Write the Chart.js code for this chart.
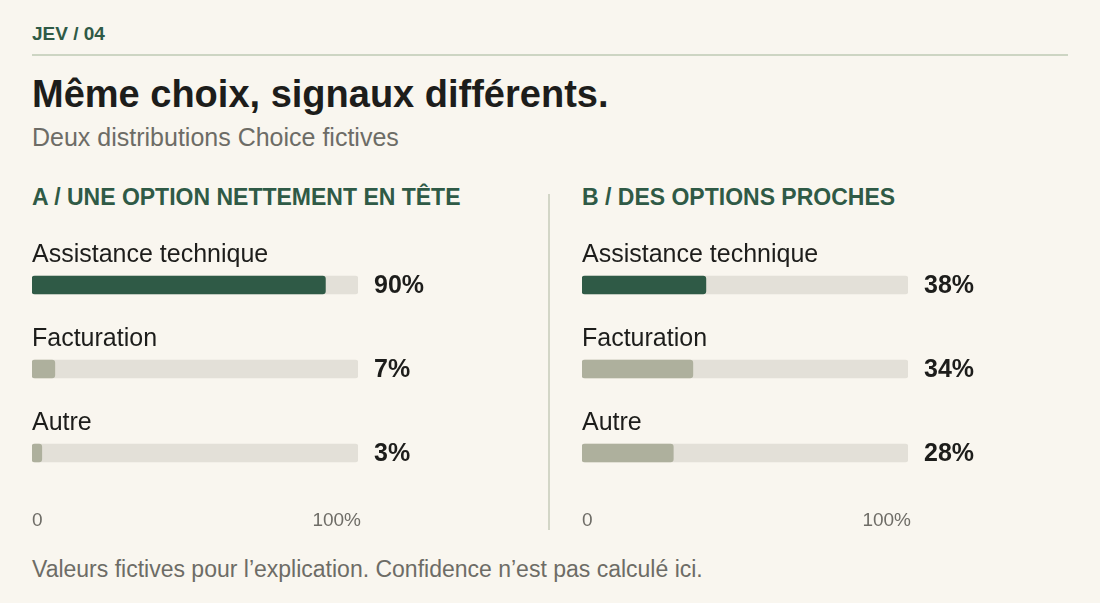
<!DOCTYPE html>
<html lang="fr">

<head>
    <meta charset="UTF-8">
    <title>Même choix, signaux différents.</title>
    <script src="https://cdn.jsdelivr.net/npm/chart.js"></script>
    <style>
        body {
            margin: 0;
            background: #f9f6ef;
            font-family: "Liberation Sans", Arial, sans-serif;
            color: #1d1d1b;
        }

        .page {
            position: relative;
            width: 1100px;
            height: 603px;
            overflow: hidden;
        }

        .page div {
            line-height: 1;
            white-space: nowrap;
        }

        .kicker {
            position: absolute;
            left: 32px;
            top: 24px;
            font-size: 19px;
            font-weight: bold;
            color: #2f5a46;
        }

        .rule {
            position: absolute;
            left: 32px;
            top: 54px;
            width: 1036px;
            height: 2px;
            background: #cdd5c3;
        }

        h1 {
            position: absolute;
            left: 32px;
            top: 75px;
            margin: 0;
            font-size: 38px;
            line-height: 1;
            font-weight: bold;
        }

        .sub {
            position: absolute;
            left: 32px;
            top: 125px;
            font-size: 25px;
            color: #6d6c66;
        }

        .ptitle {
            position: absolute;
            top: 186px;
            font-size: 23px;
            font-weight: bold;
            color: #2f5a46;
        }

        .divider {
            position: absolute;
            left: 548px;
            top: 194px;
            width: 2px;
            height: 336px;
            background: #d3d6c7;
        }

        .box {
            position: absolute;
            top: 230px;
            width: 500px;
            height: 310px;
        }

        .note {
            position: absolute;
            left: 32px;
            top: 558px;
            font-size: 23px;
            color: #6d6c66;
        }
    </style>
</head>

<body>
    <div class="page">
        <div class="kicker">JEV / 04</div>
        <div class="rule"></div>
        <h1>Même choix, signaux différents.</h1>
        <div class="sub">Deux distributions Choice fictives</div>

        <div class="ptitle" style="left: 32px;">A / UNE OPTION NETTEMENT EN TÊTE</div>
        <div class="ptitle" style="left: 582px;">B / DES OPTIONS PROCHES</div>
        <div class="divider"></div>

        <div class="box" style="left: 32px;"><canvas id="chartA"></canvas></div>
        <div class="box" style="left: 582px;"><canvas id="chartB"></canvas></div>

        <div class="note">Valeurs fictives pour l’explication. Confidence n’est pas calculé ici.</div>
    </div>

    <script>
        const categories = ['Assistance technique', 'Facturation', 'Autre'];
        const valuesA = [90, 7, 3];
        const valuesB = [38, 34, 28];
        const trackValues = [100, 100, 100];
        const tickValues = [0, 100];
        const tickLabels = ['0', '100%'];

        const DARK = '#2f5a46';
        const MUTED = '#aeb09d';
        const TRACK = '#e3e0d8';
        const FONT = '"Liberation Sans", Arial, sans-serif';

        // category names above the bars, % on the right, and the 0 / 100% ticks
        const rowText = {
            id: 'rowText',
            afterDatasetsDraw(chart) {
                const ctx = chart.ctx;
                const meta = chart.getDatasetMeta(0);
                const xs = chart.scales.x;
                ctx.save();
                ctx.textBaseline = 'middle';
                meta.data.forEach((bar, i) => {
                    ctx.fillStyle = '#1d1d1b';
                    ctx.textAlign = 'left';
                    ctx.font = '25px ' + FONT;
                    ctx.fillText(chart.data.labels[i], xs.left, bar.y - 30);
                    ctx.font = 'bold 25px ' + FONT;
                    ctx.fillText(chart.data.datasets[0].data[i] + '%', xs.right + 16, bar.y + 1);
                });
                ctx.fillStyle = '#6f6d67';
                ctx.font = '19px ' + FONT;
                const ty = chart.chartArea.bottom + 26;
                ctx.textAlign = 'left';
                ctx.fillText(tickLabels[0], xs.getPixelForValue(tickValues[0]), ty);
                ctx.textAlign = 'right';
                ctx.fillText(tickLabels[1], xs.getPixelForValue(tickValues[1]) + 3, ty);
                ctx.restore();
            }
        };

        function makeChart(id, values) {
            return new Chart(document.getElementById(id), {
                type: 'bar',
                data: {
                    labels: categories,
                    datasets: [
                        {
                            data: values,
                            backgroundColor: values.map((v, i) => i === 0 ? DARK : MUTED),
                            borderRadius: 3,
                            borderSkipped: false,
                            barThickness: 18,
                            grouped: false,
                            order: 0
                        },
                        {
                            data: trackValues,
                            backgroundColor: TRACK,
                            borderRadius: 3,
                            borderSkipped: false,
                            barThickness: 18,
                            grouped: false,
                            order: 1
                        }
                    ]
                },
                options: {
                    indexAxis: 'y',
                    responsive: true,
                    maintainAspectRatio: false,
                    animation: false,
                    layout: { padding: { left: 0, right: 174, top: 13, bottom: 45 } },
                    plugins: { legend: { display: false }, tooltip: { enabled: false } },
                    scales: {
                        y: { display: false },
                        x: {
                            min: 0,
                            max: 100,
                            grid: { display: false, drawTicks: false },
                            border: { display: false },
                            ticks: { display: false }
                        }
                    }
                },
                plugins: [rowText]
            });
        }

        makeChart('chartA', valuesA);
        makeChart('chartB', valuesB);
    </script>
</body>

</html>
